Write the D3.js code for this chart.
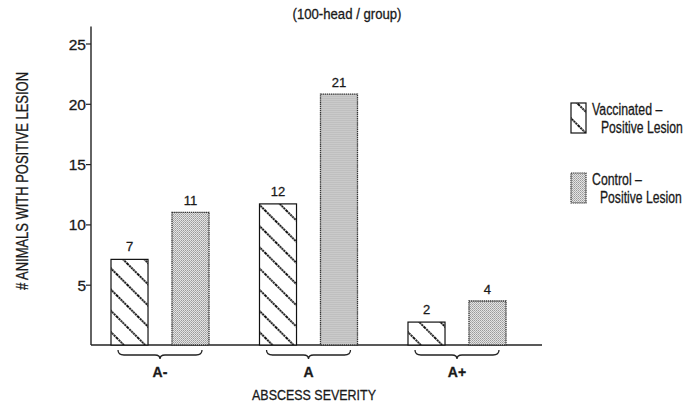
<!DOCTYPE html>
<html><head><meta charset="utf-8">
<script src="https://cdn.jsdelivr.net/npm/d3@7"></script>
<style>
html,body{margin:0;padding:0;background:#fff;}
svg text{font-family:"Liberation Sans",Arial,sans-serif;fill:#1a1a1a;stroke:#1a1a1a;stroke-width:0.3px;}
</style></head>
<body>
<svg id="c" width="698" height="404"></svg>
<script>
// Data
const groups = ["A-", "A", "A+"];
const seriesNames = ["Vaccinated", "Control"];
const vaccinatedHeights = [7.1, 11.7, 1.9];   // bar heights as drawn
const controlHeights = [11, 20.8, 3.65];
const vaccinatedLabels = ["7", "12", "2"];
const controlLabels = ["11", "21", "4"];
const yTicks = [5, 10, 15, 20, 25];

const svg = d3.select("#c");
const defs = svg.append("defs");

// hatch pattern ("\" direction)
const hatch = defs.append("pattern").attr("id","hatch").attr("patternUnits","userSpaceOnUse")
  .attr("width",15).attr("height",15).attr("patternTransform","translate(0,4) rotate(45)");
hatch.append("rect").attr("width",15).attr("height",15).attr("fill","#fff");
hatch.append("line").attr("x1",0).attr("y1",7).attr("x2",15).attr("y2",7)
  .attr("stroke","#111").attr("stroke-width",2).attr("stroke-dasharray","2,0.8");

// stipple pattern
const stip = defs.append("pattern").attr("id","stip").attr("patternUnits","userSpaceOnUse")
  .attr("width",2).attr("height",2);
stip.append("rect").attr("width",2).attr("height",2).attr("fill","#e4e4e4");
stip.append("rect").attr("x",0).attr("y",0).attr("width",1).attr("height",1).attr("fill","#9a9a9a");
stip.append("rect").attr("x",1).attr("y",1).attr("width",1).attr("height",1).attr("fill","#b0b0b0");

const y = d3.scaleLinear().domain([0,25]).range([345,43.5]);
const x = d3.scaleBand().domain(groups).range([111,506]).paddingInner(0.34).paddingOuter(0);
const xs = d3.scaleBand().domain(seriesNames).range([0, x.bandwidth()]).paddingInner(0.393).paddingOuter(0);

// y axis
const yAxis = d3.axisLeft(y).tickValues(yTicks).tickSize(5).tickSizeOuter(0);
const ya = svg.append("g").attr("transform","translate(91,0)").call(yAxis);
ya.select(".domain").remove();
ya.selectAll(".tick line").attr("stroke","#222").attr("stroke-width",1.2);
ya.selectAll(".tick text").attr("font-size",15.5).attr("x",-5).attr("dy","0.36em")
  .style("font-family",'"Liberation Sans",Arial,sans-serif').attr("fill","#1a1a1a");
ya.append("line").attr("x1",0).attr("x2",0).attr("y1",y(0)).attr("y2",y(26.4))
  .attr("stroke","#222").attr("stroke-width",1.4);

// x axis line
svg.append("line").attr("x1",91).attr("x2",542).attr("y1",y(0)).attr("y2",y(0))
  .attr("stroke","#222").attr("stroke-width",1.4);

// bars
const rows = groups.map((g,i)=>({g, v:vaccinatedHeights[i], c:controlHeights[i], vl:vaccinatedLabels[i], cl:controlLabels[i]}));
const gg = svg.append("g").selectAll("g").data(rows).join("g")
  .attr("transform",d=>`translate(${x(d.g)},0)`);

gg.append("rect").attr("x",xs("Vaccinated")).attr("width",xs.bandwidth())
  .attr("y",d=>y(d.v)).attr("height",d=>y(0)-y(d.v))
  .attr("fill","url(#hatch)").attr("stroke","#111").attr("stroke-width",1.2);
gg.append("rect").attr("x",xs("Control")).attr("width",xs.bandwidth())
  .attr("y",d=>y(d.c)).attr("height",d=>y(0)-y(d.c))
  .attr("fill","url(#stip)").attr("stroke","#333").attr("stroke-width",1.3).attr("stroke-dasharray","1.4,0.7");

gg.append("text").attr("x",xs("Vaccinated")+xs.bandwidth()/2).attr("y",d=>y(d.v)-8)
  .attr("text-anchor","middle").attr("font-size",13).text(d=>d.vl);
gg.append("text").attr("x",xs("Control")+xs.bandwidth()/2).attr("y",d=>y(d.c)-7)
  .attr("text-anchor","middle").attr("font-size",13).text(d=>d.cl);

// braces
function brace(cx, half, top){
  const l = cx-half, r = cx+half, m = top+5, tip = top+9;
  return `M${l},${top} Q${l},${m} ${l+6},${m} L${cx-5},${m} Q${cx},${m} ${cx},${tip} Q${cx},${m} ${cx+5},${m} L${r-6},${m} Q${r},${m} ${r},${top}`;
}
gg.append("path").attr("d",d=>brace(x.bandwidth()/2, 42, 350)).attr("fill","none")
  .attr("stroke","#222").attr("stroke-width",1.3);
gg.append("text").attr("x",x.bandwidth()/2).attr("y",377).attr("text-anchor","middle")
  .attr("font-size",14).attr("font-weight","bold").text(d=>d.g);

// axis titles
svg.append("text").attr("x",314).attr("y",400).attr("text-anchor","middle").attr("font-size",15.5)
  .text("ABSCESS SEVERITY").attr("textLength",124).attr("lengthAdjust","spacingAndGlyphs");
svg.append("text").attr("transform","translate(28,181) rotate(-90)").attr("text-anchor","middle")
  .attr("font-size",16).text("# ANIMALS WITH POSITIVE LESION").attr("textLength",218).attr("lengthAdjust","spacingAndGlyphs");
svg.append("text").attr("x",347).attr("y",19).attr("text-anchor","middle").attr("font-size",14)
  .text("(100-head / group)").attr("textLength",109).attr("lengthAdjust","spacingAndGlyphs");

// legend
const leg = [
  {fill:"url(#hatch)", stroke:"#111", dash:null, l1:"Vaccinated –", l2:"Positive Lesion", x1:592, x2:601, top:103},
  {fill:"url(#stip)", stroke:"#333", dash:"1.4,0.7", l1:"Control –", l2:"Positive Lesion", x1:592, x2:600, top:173}
];
const lg = svg.append("g").selectAll("g").data(leg).join("g");
lg.append("rect").attr("x",571).attr("y",d=>d.top).attr("width",15).attr("height",30)
  .attr("fill",d=>d.fill).attr("stroke",d=>d.stroke).attr("stroke-width",1.2).attr("stroke-dasharray",d=>d.dash);
lg.append("text").attr("transform",d=>`translate(${d.x1},${d.top+12}) scale(0.77,1)`).attr("font-size",16).text(d=>d.l1);
lg.append("text").attr("transform",d=>`translate(${d.x2},${d.top+30}) scale(0.76,1)`).attr("font-size",16).text(d=>d.l2);
</script>
</body></html>
